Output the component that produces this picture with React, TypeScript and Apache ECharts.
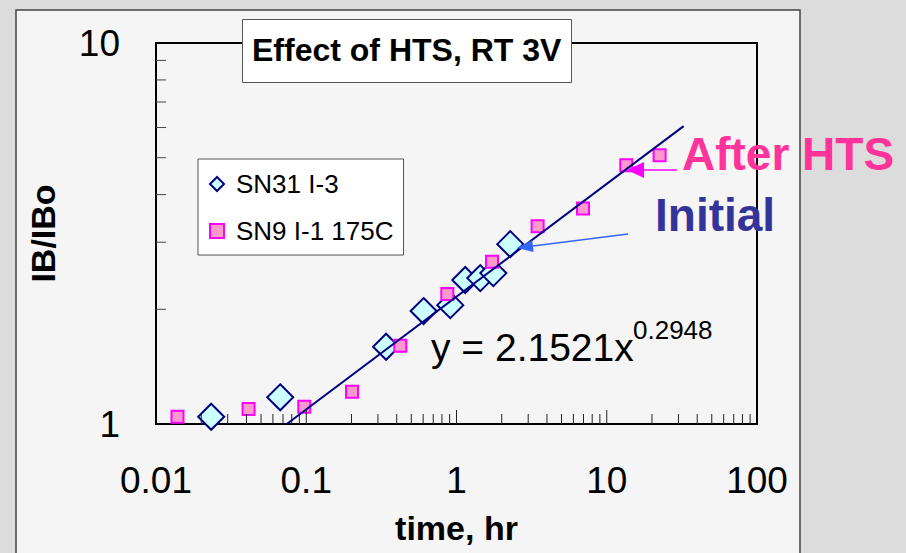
import React, { useEffect, useRef } from 'react';
import * as echarts from 'echarts';

// ---- data ----
const seriesNames = ['SN31 I-3', 'SN9 I-1 175C'];
const sn31Time = [0.0233, 0.0671, 0.34, 0.604, 0.909, 1.144, 1.44, 1.758, 2.28];
const sn31Ratio = [1.045, 1.175, 1.595, 1.979, 2.051, 2.387, 2.415, 2.489, 2.965];
const sn9Time = [0.0139, 0.0413, 0.097, 0.2016, 0.4226, 0.8686, 1.723, 3.466, 6.95, 13.49, 22.47];
const sn9Ratio = [1.045, 1.095, 1.11, 1.215, 1.604, 2.193, 2.666, 3.306, 3.679, 4.778, 5.077];
const fitTime = [0.0742, 32.5];
const fitRatio = [1.0, 6.05];
const xTickLabels = ['0.01', '0.1', '1', '10', '100'];
const yTickLabels = ['1', '10'];
const xMajorTicks = [0.1, 1, 10];
const xMinorTicks = [
  0.02, 0.03, 0.04, 0.05, 0.06, 0.07, 0.08, 0.09,
  0.2, 0.3, 0.4, 0.5, 0.6, 0.7, 0.8, 0.9,
  2, 3, 4, 5, 6, 7, 8, 9,
  20, 30, 40, 50, 60, 70, 80, 90,
];
const yMinorTicks = [2, 3, 4, 5, 6, 7, 8, 9];
const equationText = 'y = 2.1521x';
const equationExponent = '0.2948';

const FONT = '"Liberation Sans", Arial, Helvetica, sans-serif';

export default function App() {
  const ref = useRef<HTMLDivElement>(null);

  useEffect(() => {
    if (!ref.current) return;
    const chart = echarts.init(ref.current, undefined, { renderer: 'svg' });

    const zip = (a: number[], b: number[]) => a.map((v, i) => [v, b[i]]);

    const xTickSeries = (vals: number[], len: number) => ({
      type: 'custom',
      silent: true,
      z: 5,
      data: vals.map((v) => [v, 1]),
      renderItem: (_p: any, api: any) => {
        const pt = api.coord([api.value(0), api.value(1)]);
        return {
          type: 'line',
          shape: { x1: pt[0], y1: pt[1], x2: pt[0], y2: pt[1] - len },
          style: { stroke: '#222', lineWidth: 1 },
        };
      },
    });

    const option: any = {
      animation: false,
      backgroundColor: '#dcdcdc',
      textStyle: { fontFamily: FONT },
      title: {
        text: 'Effect of HTS, RT 3V',
        left: 242,
        top: 19,
        padding: [15, 10, 17, 10],
        backgroundColor: '#ffffff',
        borderColor: '#555',
        borderWidth: 1,
        z: 20,
        textStyle: { fontSize: 32, fontWeight: 'bold', color: '#000', fontFamily: FONT },
      },
      legend: {
        data: seriesNames,
        orient: 'vertical',
        left: 198,
        top: 159,
        padding: [12, 10, 11, 11],
        itemGap: 21,
        itemWidth: 14,
        itemHeight: 14,
        symbolKeepAspect: true,
        backgroundColor: '#ffffff',
        borderColor: '#555',
        borderWidth: 1,
        selectedMode: false,
        textStyle: { fontSize: 26, color: '#000', fontFamily: FONT, padding: [0, 0, 0, 7] },
      },
      grid: {
        left: 156,
        top: 43,
        right: 149,
        bottom: 129,
        show: true,
        backgroundColor: 'transparent',
        borderColor: '#000',
        borderWidth: 2,
      },
      xAxis: {
        type: 'log',
        logBase: 10,
        min: 0.01,
        max: 100,
        name: 'time, hr',
        nameLocation: 'middle',
        nameGap: 87,
        nameTextStyle: { fontSize: 34, fontWeight: 'bold', color: '#000', fontFamily: FONT },
        axisLine: { show: true, lineStyle: { color: '#000', width: 2 } },
        axisTick: { show: false },
        minorTick: { show: false },
        splitLine: { show: false },
        axisLabel: {
          fontSize: 37,
          color: '#000',
          margin: 38,
          fontFamily: FONT,
          formatter: (v: number) => xTickLabels[Math.round(Math.log10(v)) + 2] ?? '',
        },
      },
      yAxis: {
        type: 'log',
        logBase: 10,
        min: 1,
        max: 10,
        name: 'IB/IBo',
        nameLocation: 'middle',
        nameGap: 96,
        nameRotate: 90,
        nameTextStyle: { fontSize: 34, fontWeight: 'bold', color: '#000', fontFamily: FONT },
        axisLine: { show: true, lineStyle: { color: '#000', width: 2 } },
        axisTick: { show: false },
        minorTick: { show: false },
        splitLine: { show: false },
        axisLabel: {
          fontSize: 37,
          color: '#000',
          margin: 36,
          fontFamily: FONT,
          formatter: (v: number) => yTickLabels[Math.round(Math.log10(v))] ?? '',
        },
      },
      series: [
        xTickSeries(xMinorTicks, 10),
        xTickSeries(xMajorTicks, 14),
        {
          type: 'custom',
          silent: true,
          z: 5,
          data: yMinorTicks.map((v) => [0.01, v]),
          renderItem: (_p: any, api: any) => {
            const pt = api.coord([api.value(0), api.value(1)]);
            return {
              type: 'line',
              shape: { x1: pt[0], y1: pt[1], x2: pt[0] + 10, y2: pt[1] },
              style: { stroke: '#444', lineWidth: 1 },
            };
          },
        },
        {
          name: seriesNames[0],
          type: 'scatter',
          symbol: 'diamond',
          symbolSize: 26,
          z: 3,
          itemStyle: { color: '#ccffff', borderColor: '#000080', borderWidth: 2, opacity: 1 },
          data: zip(sn31Time, sn31Ratio),
        },
        {
          name: seriesNames[1],
          type: 'scatter',
          symbol: 'rect',
          symbolSize: 12,
          z: 4,
          itemStyle: { color: '#ff99cc', borderColor: '#ff00ff', borderWidth: 2, opacity: 1 },
          data: zip(sn9Time, sn9Ratio),
        },
        {
          name: 'fit',
          type: 'line',
          showSymbol: false,
          z: 6,
          lineStyle: { color: '#000080', width: 2 },
          data: zip(fitTime, fitRatio),
        },
      ],
      graphic: [
        {
          type: 'rect',
          z: -100,
          silent: true,
          shape: { x: 16, y: 10, width: 784, height: 560 },
          style: { fill: '#f5f5f5', stroke: '#444', lineWidth: 1.5 },
        },
        {
          type: 'text',
          z: 50,
          x: 431,
          y: 347,
          style: { text: equationText, font: `normal 39px ${FONT}`, fill: '#000', align: 'left', verticalAlign: 'middle' },
        },
        {
          type: 'text',
          z: 50,
          x: 633,
          y: 330,
          style: { text: equationExponent, font: `normal 26px ${FONT}`, fill: '#000', align: 'left', verticalAlign: 'middle' },
        },
        {
          type: 'text',
          z: 50,
          x: 682,
          y: 154,
          style: { text: 'After HTS', font: `bold 46px ${FONT}`, fill: '#ff3399', align: 'left', verticalAlign: 'middle' },
        },
        {
          type: 'text',
          z: 50,
          x: 655,
          y: 215,
          style: { text: 'Initial', font: `bold 46px ${FONT}`, fill: '#333399', align: 'left', verticalAlign: 'middle' },
        },
        {
          type: 'line',
          z: 50,
          shape: { x1: 643, y1: 170, x2: 677, y2: 170 },
          style: { stroke: '#ff00ff', lineWidth: 1.5 },
        },
        {
          type: 'polygon',
          z: 50,
          shape: { points: [[627, 170], [644, 162], [644, 178]] },
          style: { fill: '#ff00ff' },
        },
        {
          type: 'line',
          z: 50,
          shape: { x1: 628, y1: 234, x2: 533, y2: 246 },
          style: { stroke: '#3366ff', lineWidth: 1.5 },
        },
        {
          type: 'polygon',
          z: 50,
          shape: { points: [[517, 248], [533.6, 252], [532.1, 240]] },
          style: { fill: '#3366ff' },
        },
      ],
    };

    chart.setOption(option);
    return () => chart.dispose();
  }, []);

  return (
    <div
      ref={ref}
      style={{ position: 'fixed', left: 0, top: 0, width: 906, height: 553 }}
    />
  );
}
